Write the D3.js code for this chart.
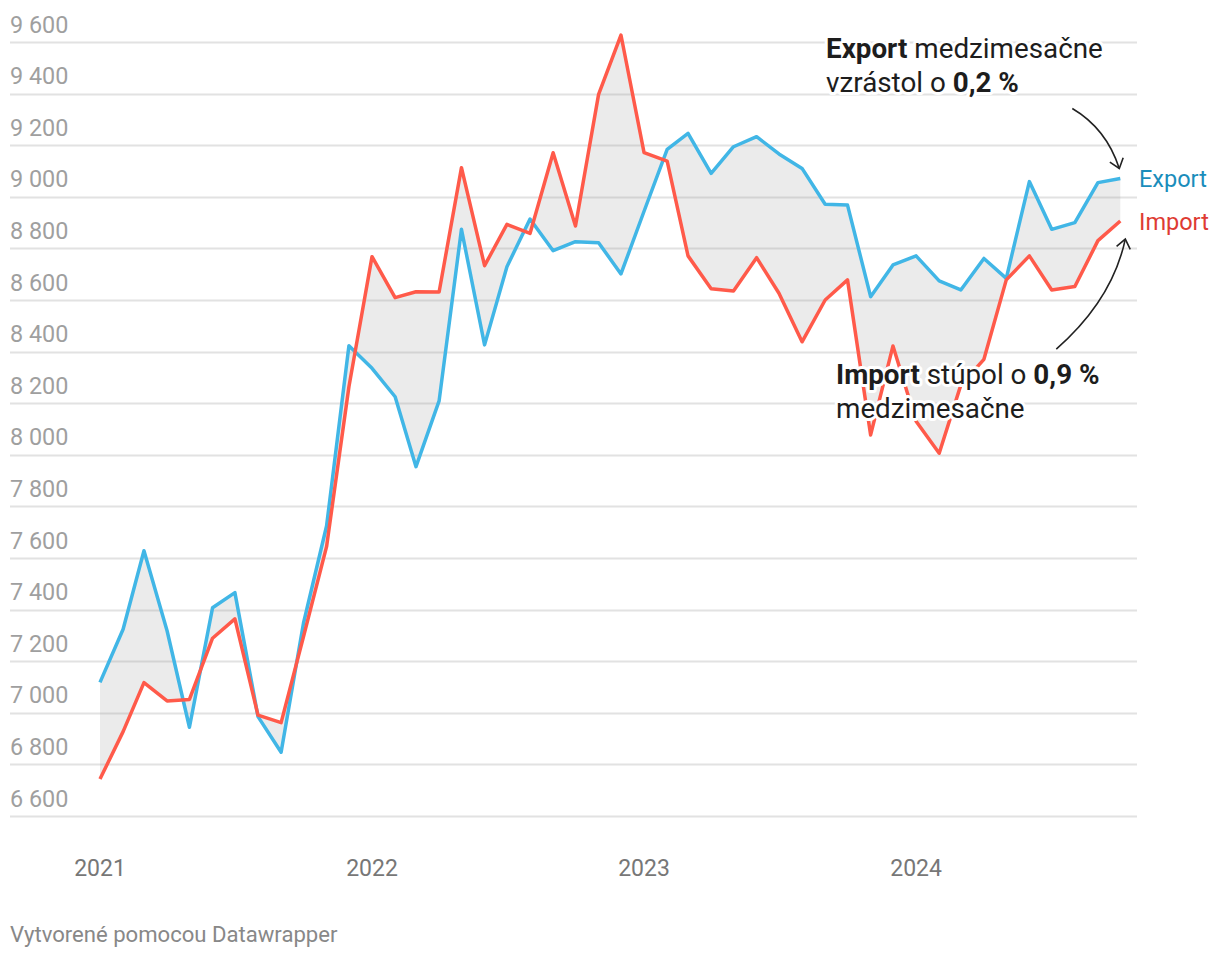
<!DOCTYPE html>
<html>
<head>
<meta charset="utf-8">
<script src="https://cdn.jsdelivr.net/npm/d3@7"></script>
<style>
  html, body { margin: 0; padding: 0; background: #fff; }
  svg { display: block; font-family: Roboto, "Noto Sans", sans-serif; }
</style>
</head>
<body>
<svg id="chart" width="1220" height="960"></svg>
<script>
// ---- data ----
const months = [
  "2021-01","2021-02","2021-03","2021-04","2021-05","2021-06","2021-07","2021-08","2021-09","2021-10","2021-11","2021-12",
  "2022-01","2022-02","2022-03","2022-04","2022-05","2022-06","2022-07","2022-08","2022-09","2022-10","2022-11","2022-12",
  "2023-01","2023-02","2023-03","2023-04","2023-05","2023-06","2023-07","2023-08","2023-09","2023-10","2023-11","2023-12",
  "2024-01","2024-02","2024-03","2024-04","2024-05","2024-06","2024-07","2024-08","2024-09","2024-10"
];
const exportValues = [
  7118, 7324, 7628, 7318, 6944, 7407, 7466, 6985, 6847, 7347, 7724, 8423,
  8335, 8225, 7954, 8209, 8874, 8426, 8729, 8914, 8791, 8826, 8822, 8701,
  8944, 9184, 9246, 9091, 9194, 9233, 9166, 9110, 8971, 8968, 8613, 8736,
  8771, 8674, 8639, 8761, 8684, 9059, 8874, 8900, 9055, 9071
];
const importValues = [
  6743, 6927, 7117, 7046, 7052, 7289, 7364, 6991, 6962, 7295, 7644, 8264,
  8768, 8609, 8632, 8631, 9113, 8733, 8893, 8858, 9171, 8887, 9397, 9627,
  9171, 9138, 8771, 8644, 8635, 8764, 8626, 8438, 8600, 8678, 8077, 8422,
  8130, 8006, 8270, 8370, 8678, 8771, 8639, 8652, 8830, 8906
];
const yTicks = [6600, 6800, 7000, 7200, 7400, 7600, 7800, 8000, 8200, 8400, 8600, 8800, 9000, 9200, 9400, 9600];
const xTickYears = ["2021", "2022", "2023", "2024"];
const seriesNames = ["Export", "Import"];
const footerText = "Vytvorené pomocou Datawrapper";

// ---- setup ----
const parse = d3.utcParse("%Y-%m");
const dates = months.map(parse);
const rows = dates.map((d, i) => ({ date: d, exp: exportValues[i], imp: importValues[i] }));

const svg = d3.select("#chart");
const x = d3.scaleUtc().domain(d3.extent(dates)).range([100, 1120.3]);
const y = d3.scaleLinear().domain([6600, 9600]).range([816, 42]);

const colExport = "#41b6e6";
const colImport = "#ff5a4a";

// grid + y labels
const grid = svg.append("g");
grid.selectAll("line").data(yTicks).join("line")
  .attr("x1", 10).attr("x2", 1137)
  .attr("y1", d => Math.round(y(d)) + 0.5).attr("y2", d => Math.round(y(d)) + 0.5)
  .attr("stroke", "#e2e2e2").attr("stroke-width", 2);
const fmt = d => d3.format(",")(d).replace(/,/g, " ");
grid.selectAll("text").data(yTicks).join("text")
  .attr("x", 10).attr("y", d => y(d) - 9.5)
  .attr("fill", "#9f9f9f").attr("font-size", 23.4)
  .text(d => fmt(d));

// x labels
svg.append("g").selectAll("text").data(xTickYears).join("text")
  .attr("x", d => x(parse(d + "-01")))
  .attr("y", 876)
  .attr("text-anchor", "middle")
  .attr("fill", "#777").attr("font-size", 23)
  .text(d => d);

// area between
svg.append("path").datum(rows)
  .attr("d", d3.area().x(d => x(d.date)).y0(d => y(d.imp)).y1(d => y(d.exp)))
  .attr("fill", "#9a9a9a").attr("fill-opacity", 0.2);

// lines
const line = key => d3.line().x(d => x(d.date)).y(d => y(d[key]));
svg.append("path").datum(rows).attr("d", line("exp"))
  .attr("fill", "none").attr("stroke", colExport).attr("stroke-width", 3.5)
  .attr("stroke-linejoin", "round");
svg.append("path").datum(rows).attr("d", line("imp"))
  .attr("fill", "none").attr("stroke", colImport).attr("stroke-width", 3.5)
  .attr("stroke-linejoin", "round");

// series labels at last points
const last = rows[rows.length - 1];
svg.append("text").attr("x", 1139).attr("y", y(last.exp) + 8.5)
  .attr("fill", "#1a8dbb").attr("font-size", 23.5).text(seriesNames[0]);
svg.append("text").attr("x", 1139).attr("y", y(last.imp) + 9)
  .attr("fill", "#de3b33").attr("font-size", 23.5).text(seriesNames[1]);

// arrow marker
const defs = svg.append("defs");
defs.append("marker").attr("id", "chev")
  .attr("viewBox", "-12 -10 14 20").attr("markerWidth", 14).attr("markerHeight", 20)
  .attr("refX", 0).attr("refY", 0).attr("orient", "auto").attr("markerUnits", "userSpaceOnUse")
  .append("path").attr("d", "M-9,-7 L0,0 L-9,7")
  .attr("fill", "none").attr("stroke", "#222").attr("stroke-width", 1.6);

// annotations text (with white halo)
function annot(xp, yp, lines) {
  const t = svg.append("text").attr("x", xp).attr("y", yp)
    .attr("font-size", 27.8).attr("fill", "#1d1d1d")
    .attr("stroke", "#fff").attr("stroke-width", 6).attr("stroke-linejoin", "round")
    .attr("paint-order", "stroke");
  lines.forEach((ln, li) => {
    ln.forEach((seg, si) => {
      const ts = t.append("tspan").text(seg.t).attr("font-weight", seg.b ? 700 : 400);
      if (si === 0) ts.attr("x", xp).attr("dy", li === 0 ? 0 : 33.5);
    });
  });
}
annot(826, 58, [
  [{ t: "Export", b: true }, { t: " medzimesačne" }],
  [{ t: "vzrástol o " }, { t: "0,2 %", b: true }]
]);
annot(836, 384, [
  [{ t: "Import", b: true }, { t: " stúpol o " }, { t: "0,9 %", b: true }],
  [{ t: "medzimesačne" }]
]);

// arrows anchored to last points
const lx = x(last.date);
const eEnd = [lx - 1, y(last.exp) - 10];
const eStart = [eEnd[0] - 47, eEnd[1] - 60];
const eCtrl = [eEnd[0] - 13, eEnd[1] - 40];
svg.append("path")
  .attr("d", `M${eStart[0]},${eStart[1]} Q${eCtrl[0]},${eCtrl[1]} ${eEnd[0]},${eEnd[1]}`)
  .attr("fill", "none").attr("stroke", "#222").attr("stroke-width", 1.6)
  .attr("marker-end", "url(#chev)");
const iEnd = [lx + 5, y(last.imp) + 18];
const iStart = [iEnd[0] - 69, iEnd[1] + 110];
const iCtrl = [iEnd[0] - 13, iEnd[1] + 61];
svg.append("path")
  .attr("d", `M${iStart[0]},${iStart[1]} Q${iCtrl[0]},${iCtrl[1]} ${iEnd[0]},${iEnd[1]}`)
  .attr("fill", "none").attr("stroke", "#222").attr("stroke-width", 1.6)
  .attr("marker-end", "url(#chev)");

// footer
svg.append("text").attr("x", 10).attr("y", 942)
  .attr("fill", "#888").attr("font-size", 22.1).text(footerText);
</script>
</body>
</html>
